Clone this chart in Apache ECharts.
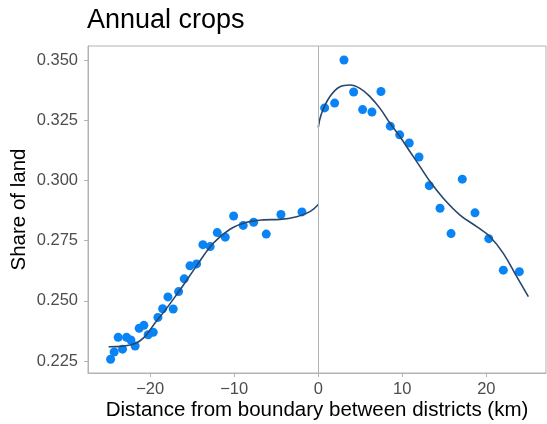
<!DOCTYPE html>
<html>
<head>
<meta charset="utf-8">
<script src="https://cdn.jsdelivr.net/npm/echarts@6/dist/echarts.min.js"></script>
<style>
  html, body { margin: 0; padding: 0; background: #fff; }
  #chart { width: 547px; height: 424px; }
</style>
</head>
<body>
<div id="chart"></div>
<script>
// Binned means of annual-crop share by distance to the district boundary
const westDistance = [-24.71, -24.29, -23.81, -23.29, -22.81, -22.30, -21.79, -21.31, -20.75, -20.24,
  -19.64, -19.08, -18.52, -17.89, -17.26, -16.62, -15.95, -15.27, -14.48, -13.73,
  -12.86, -12.02, -11.07, -10.07, -8.93, -7.69, -6.19, -4.44, -1.94];
const westShare = [0.2257, 0.2287, 0.2348, 0.2299, 0.2348, 0.2337, 0.2312, 0.2386, 0.2398, 0.2359,
  0.2369, 0.2431, 0.2467, 0.2516, 0.2466, 0.2538, 0.2591, 0.2645, 0.2653, 0.2733,
  0.2725, 0.2783, 0.2764, 0.2852, 0.2813, 0.2826, 0.2777, 0.2858, 0.2869];

const eastDistance = [0.76, 1.95, 3.06, 4.21, 5.28, 6.39, 7.46, 8.57, 9.69, 10.83,
  11.99, 13.21, 14.49, 15.80, 17.14, 18.65, 20.29, 22.02, 23.93];
const eastShare = [0.3301, 0.3321, 0.3500, 0.3367, 0.3294, 0.3284, 0.3369, 0.3225, 0.3189, 0.3155,
  0.3097, 0.2978, 0.2884, 0.2779, 0.3005, 0.2865, 0.2758, 0.2627, 0.2621];

// Smoothed fit on each side of the boundary
const westFitX = [-24.95, -21.79, -19.08, -16.46, -14.48, -12.5, -10.5, -8.52, -6.55, -4.56, -2.57, -0.99, 0];
const westFitY = [0.2309, 0.2323, 0.2423, 0.2545, 0.2645, 0.2739, 0.2797, 0.2826, 0.2836, 0.2838, 0.2849, 0.2870, 0.2900];
const eastFitX = [0, 0.4, 1.39, 2.58, 3.77, 4.96, 6.15, 7.35, 8.54, 9.73, 10.92, 12.11, 13.30, 14.88, 16.87, 18.85, 20.44, 22.02, 23.62, 25.0];
const eastFitY = [0.3220, 0.3279, 0.3348, 0.3389, 0.3396, 0.3382, 0.3348, 0.3299, 0.3237, 0.3181, 0.3119, 0.3057, 0.2995, 0.2926, 0.2856, 0.2808, 0.2766, 0.2697, 0.2600, 0.2517];

const xTicks = [-20, -10, 0, 10, 20];
const yTicks = [0.225, 0.250, 0.275, 0.300, 0.325, 0.350];

const zip = (xs, ys) => xs.map((x, i) => [x, ys[i]]);
const GREY = '#b3b3b3';
const LABEL = '#4d4d4d';
const DOT = '#0a84f5';
const FIT = '#27476c';
const FONT = 'Liberation Sans, Arial, sans-serif';

const chart = echarts.init(document.getElementById('chart'), null, { renderer: 'canvas' });
chart.setOption({
  animation: false,
  backgroundColor: '#fff',
  title: {
    text: 'Annual crops',
    left: 87, top: 7, padding: 0,
    textStyle: { fontFamily: FONT, fontSize: 27, fontWeight: 'normal', color: '#000' }
  },
  grid: {
    left: 88, right: 1, top: 46, bottom: 51,
    outerBoundsMode: 'none', containLabel: false,
    show: true, borderColor: GREY, borderWidth: 1, backgroundColor: '#fff'
  },
  xAxis: {
    type: 'value', min: -27.4, max: 27.1,
    name: 'Distance from boundary between districts (km)',
    nameLocation: 'middle', nameGap: 27, nameMoveOverlap: false,
    nameTextStyle: { fontFamily: FONT, fontSize: 20.5, color: '#000' },
    splitLine: { show: false },
    axisLine: { show: true, onZero: false, lineStyle: { color: GREY } },
    axisTick: { show: true, length: 4, customValues: xTicks, lineStyle: { color: GREY } },
    axisLabel: {
      customValues: xTicks, margin: 8,
      fontFamily: FONT, fontSize: 16.5, color: LABEL,
      formatter: v => String(v).replace('-', '\u2212')
    }
  },
  yAxis: {
    type: 'value', min: 0.2200, max: 0.3558,
    name: 'Share of land',
    nameLocation: 'middle', nameGap: 58, nameRotate: 90, nameMoveOverlap: false,
    nameTextStyle: { fontFamily: FONT, fontSize: 20.5, color: '#000' },
    splitLine: { show: false },
    axisLine: { show: true, onZero: false, lineStyle: { color: GREY } },
    axisTick: { show: true, length: 4, customValues: yTicks, lineStyle: { color: GREY } },
    axisLabel: {
      customValues: yTicks, margin: 10,
      fontFamily: FONT, fontSize: 16.5, color: LABEL,
      formatter: v => v.toFixed(3)
    }
  },
  series: [
    {
      type: 'line', data: [], silent: true,
      markLine: {
        silent: true, symbol: 'none', label: { show: false },
        lineStyle: { color: GREY, width: 1, type: 'solid' },
        data: [{ xAxis: 0 }]
      }
    },
    {
      type: 'scatter', data: zip(westDistance, westShare),
      symbolSize: 9, itemStyle: { color: DOT, opacity: 1 }
    },
    {
      type: 'scatter', data: zip(eastDistance, eastShare),
      symbolSize: 9, itemStyle: { color: DOT, opacity: 1 }
    },
    {
      type: 'line', data: zip(westFitX, westFitY), smooth: 0.4, showSymbol: false,
      lineStyle: { color: FIT, width: 1.6 }
    },
    {
      type: 'line', data: zip(eastFitX, eastFitY), smooth: 0.4, showSymbol: false,
      lineStyle: { color: FIT, width: 1.6 }
    }
  ]
});
</script>
</body>
</html>
